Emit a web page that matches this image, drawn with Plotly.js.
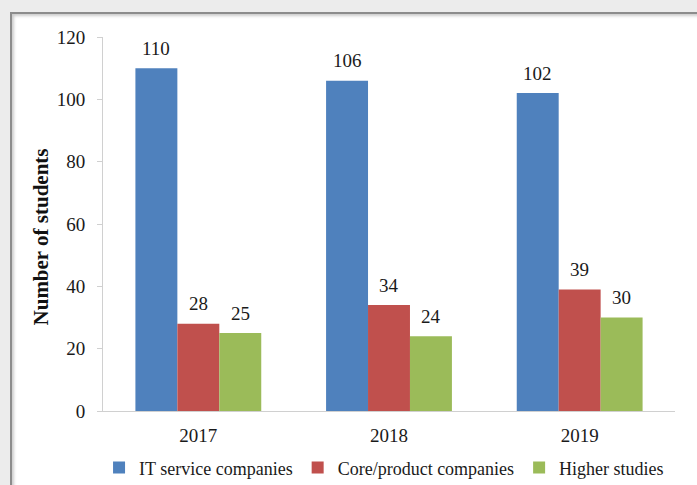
<!DOCTYPE html>
<html><head><meta charset="utf-8">
<script src="https://cdn.plot.ly/plotly-3.0.1.min.js"></script>
<style>
html,body{margin:0;padding:0;background:#ececec;width:697px;height:485px;overflow:hidden;}
#frame{position:absolute;left:10px;top:12px;width:720px;height:500px;background:#fff;border-left:2px solid #8c8c8c;border-top:2px solid #8c8c8c;box-shadow:2px 2px 3px #ccc inset;}
#chart{position:absolute;left:0;top:0;width:697px;height:485px;}
</style></head>
<body>
<div id="frame"></div>
<div id="chart"></div>
<script>
const categories = ["2017", "2018", "2019"];
const seriesNames = ["IT service companies", "Core/product companies", "Higher studies"];
const itService = [110, 106, 102];
const coreProduct = [28, 34, 39];
const higherStudies = [25, 24, 30];
const colors = ["#4F81BD", "#C0504D", "#9BBB59"];
const yTicks = [0, 20, 40, 60, 80, 100, 120];
const yTitle = "Number of students";

const series = [itService, coreProduct, higherStudies];
const font = "Liberation Serif";
const textColor = "#1a1a1a";

const traces = series.map((vals, i) => ({
  type: "bar",
  name: seriesNames[i],
  x: categories,
  y: vals,
  marker: {color: colors[i]},
  hoverinfo: "none"
}));

const barGap = 0.34;
const barW = (1 - barGap) / series.length;
const annotations = [];
series.forEach((vals, i) => {
  vals.forEach((v, j) => {
    annotations.push({
      xref: "x", yref: "y",
      x: j + (i - (series.length - 1) / 2) * barW,
      y: v,
      text: String(v),
      showarrow: false,
      yanchor: "middle",
      yshift: 20,
      font: {family: font, size: 19, color: textColor}
    });
  });
});
annotations.push({
  xref: "paper", yref: "paper", x: 0, y: 0.464,
  xanchor: "center", yanchor: "middle", xshift: -62,
  textangle: -90, showarrow: false,
  text: "<b>" + yTitle + "</b>",
  font: {family: font, size: 21, color: "#111"}
});

const layout = {
  width: 697, height: 485,
  font: {family: font, size: 19, color: textColor},
  margin: {l: 103, r: 22, t: 37, b: 74, autoexpand: false},
  paper_bgcolor: "rgba(0,0,0,0)",
  plot_bgcolor: "rgba(0,0,0,0)",
  barmode: "group",
  bargap: barGap,
  bargroupgap: 0,
  showlegend: true,
  legend: {orientation: "h", xref: "container", x: 0.551, xanchor: "center",
           y: -0.152, yanchor: "middle",
           font: {family: font, size: 18, color: textColor}, itemwidth: 30, traceorder: "normal"},
  xaxis: {
    type: "category",
    range: [-0.5, 2.5],
    showline: true, linecolor: "#d0d0d0", linewidth: 1,
    ticks: "", showgrid: false, zeroline: false,
    ticklabelstandoff: 7,
    tickfont: {family: font, size: 19, color: textColor},
    fixedrange: true
  },
  yaxis: {
    range: [0, 120],
    tickvals: yTicks,
    ticktext: yTicks.map(String),
    showline: true, linecolor: "#d0d0d0", linewidth: 1,
    ticks: "outside", ticklen: 5, tickcolor: "#d0d0d0",
    ticklabelstandoff: 8,
    showgrid: false, zeroline: false,
    tickfont: {family: font, size: 19, color: textColor},
    fixedrange: true
  },
  annotations: annotations
};

Plotly.newPlot("chart", traces, layout, {displayModeBar: false, staticPlot: true});
</script>
</body></html>
